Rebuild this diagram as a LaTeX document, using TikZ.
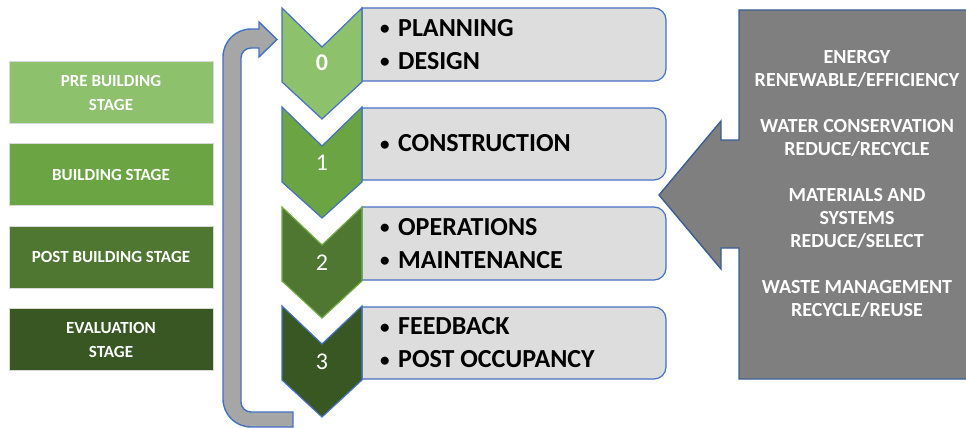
\documentclass[tikz,border=0pt]{standalone}
\usepackage{fontspec}
\setmainfont{Carlito}
\usetikzlibrary{positioning}
\definecolor{stagea}{HTML}{8DC16C}
\definecolor{stageb}{HTML}{6AA443}
\definecolor{stagec}{HTML}{4F7732}
\definecolor{staged}{HTML}{385723}
\definecolor{edgeblue}{HTML}{4472C4}
\definecolor{edgegreen}{HTML}{70AD47}
\definecolor{listgray}{HTML}{DDDDDD}
\definecolor{arrowgray}{HTML}{7F7F7F}
\definecolor{loopgray}{HTML}{A6A6A6}
\definecolor{arrowblue}{HTML}{3B5E96}
\newcommand\listdot{\raisebox{1.5pt}{\fontsize{19}{19}\selectfont\textbullet}\hspace{8.5pt}}
\tikzset{
  stagebox/.style={draw=black!15, line width=1pt, minimum width=204pt, minimum height=62pt,
    text=white, align=center, font=\bfseries\fontsize{17}{24}\selectfont},
  chevnum/.style={text=white, font=\fontsize{24}{28}\selectfont},
  listtext/.style={anchor=west, align=left, inner sep=0pt, font=\bfseries\fontsize{26}{33}\selectfont},
  gaintext/.style={text=white, align=center, font=\bfseries\fontsize{20}{23}\selectfont},
  listbox/.style={draw=edgeblue, fill=listgray, line width=1.2pt},
  chevron/.style={draw=edgeblue, line width=1.2pt}
}
\begin{document}
\begin{tikzpicture}[x=1pt,y=-1pt]
  \useasboundingbox (0,0) rectangle (966,428);
  \node[stagebox, fill=stagea] (pre) at (111,92.5) {PRE BUILDING\\STAGE};
  \node[stagebox, fill=stageb] (bld) at (111,174.5) {BUILDING STAGE};
  \node[stagebox, fill=stagec] (post) at (111,257) {POST BUILDING STAGE};
  \node[stagebox, fill=staged] (eval) at (111,339.5) {EVALUATION\\STAGE};
  \draw[draw=edgeblue, fill=loopgray, line width=1.4pt] (293,427) -- (251,427)
    arc[start angle=90, end angle=180, radius=28] -- (223,57)
    arc[start angle=180, end angle=270, radius=28] -- (259,29) -- (259,22) -- (277,39.5)
    -- (259,57) -- (259,48) -- (251,48)
    arc[start angle=270, end angle=180, radius=10] -- (241,402)
    arc[start angle=180, end angle=90, radius=10] -- (293,412) -- cycle;
  \draw[listbox] (362,8) -- (654,8) arc[start angle=-90, end angle=0, radius=12] -- (666,69)
    arc[start angle=0, end angle=90, radius=12] -- (362,81) -- cycle;
  \draw[listbox] (362,108) -- (654,108) arc[start angle=-90, end angle=0, radius=12] -- (666,168)
    arc[start angle=0, end angle=90, radius=12] -- (362,180) -- cycle;
  \draw[listbox] (362,207) -- (654,207) arc[start angle=-90, end angle=0, radius=12] -- (666,268)
    arc[start angle=0, end angle=90, radius=12] -- (362,280) -- cycle;
  \draw[listbox] (362,307) -- (654,307) arc[start angle=-90, end angle=0, radius=12] -- (666,367)
    arc[start angle=0, end angle=90, radius=12] -- (362,379) -- cycle;
  \draw[chevron, fill=stagea] (282,8) -- (322,47) -- (362,8) -- (362,82) -- (322,119) -- (282,82) -- cycle;
  \draw[chevron, fill=stageb] (282,107) -- (322,146) -- (362,107) -- (362,182) -- (322,218) -- (282,182) -- cycle;
  \draw[chevron, fill=stagec, draw=edgegreen] (282,207) -- (322,245) -- (362,207) -- (362,281) -- (322,318) -- (282,281) -- cycle;
  \draw[chevron, fill=staged] (282,306) -- (322,344) -- (362,306) -- (362,380) -- (322,417) -- (282,380) -- cycle;
  \node[chevnum, font=\bfseries\fontsize{24}{28}\selectfont] (n0) at (322,63) {0};
  \node[chevnum] (n1) at (322,163) {1};
  \node[chevnum] (n2) at (322,263) {2};
  \node[chevnum] (n3) at (322,362) {3};
  \node[listtext] (plan) at (380,44.5) {\listdot PLANNING\\\listdot DESIGN};
  \node[listtext] (cons) at (380,143.5) {\listdot CONSTRUCTION};
  \node[listtext] (oper) at (380,243.5) {\listdot OPERATIONS\\\listdot MAINTENANCE};
  \node[listtext] (feed) at (380,343) {\listdot FEEDBACK\\\listdot POST OCCUPANCY};
  \draw[draw=arrowblue, fill=arrowgray, line width=1.4pt] (739,10) -- (968,10) -- (968,379) -- (739,379)
    -- (739,248) -- (721,248) -- (721,269) -- (659,195) -- (721,121) -- (721,140) -- (739,140) -- cycle;
  \node[gaintext] (energy) at (857,68.5) {ENERGY\\RENEWABLE/EFFICIENCY};
  \node[gaintext] (water) at (857,137.5) {WATER CONSERVATION\\REDUCE/RECYCLE};
  \node[gaintext] (matl) at (857,218.5) {MATERIALS AND\\SYSTEMS\\REDUCE/SELECT};
  \node[gaintext] (waste) at (857,298.5) {WASTE MANAGEMENT\\RECYCLE/REUSE};
\end{tikzpicture}
\end{document}
